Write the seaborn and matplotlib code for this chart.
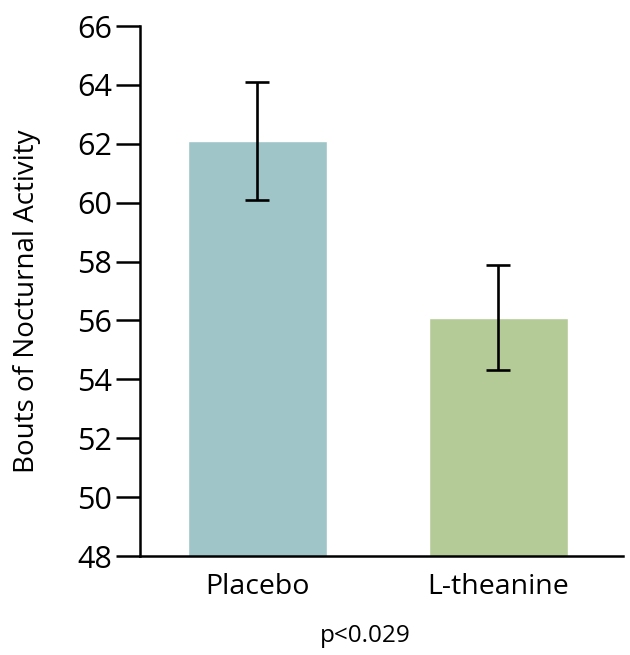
import matplotlib
matplotlib.use("Agg")
import matplotlib.pyplot as plt
import seaborn as sns
import pandas as pd

categories = ["Placebo", "L-theanine"]
means = [62.1, 56.1]
errors = [2.0, 1.78]
colors = ["#9fc5c9", "#b4cb97"]
yticks = [48, 50, 52, 54, 56, 58, 60, 62, 64, 66]

sns.set_theme(style="white")
plt.rcParams["font.family"] = ["Open Sans", "DejaVu Sans"]
plt.rcParams["text.color"] = "black"
plt.rcParams["axes.labelcolor"] = "black"

df = pd.DataFrame({"group": categories, "value": means})

fig = plt.figure(figsize=(6.30, 6.55), dpi=100)
ax = fig.add_axes([0.2222, 0.1511, 0.989 - 0.2222, 0.9603 - 0.1511])

sns.barplot(data=df, x="group", y="value", hue="group", palette=colors,
            width=0.577, errorbar=None, legend=False, ax=ax, saturation=1)
ax.errorbar(range(len(categories)), means, yerr=errors, fmt="none",
            ecolor="black", elinewidth=1.9, capsize=8.3, capthick=1.9)

ax.set_ylim(48, 66)
ax.set_yticks(yticks)
ax.set_xlim(-0.4876, 1.517)
ax.set_xlabel("")
ax.set_ylabel("Bouts of Nocturnal Activity", fontsize=20, labelpad=8)
ax.yaxis.set_label_coords(-0.205, 0.48)

for s in ["top", "right"]:
    ax.spines[s].set_visible(False)
for s in ["left", "bottom"]:
    ax.spines[s].set_color("black")
    ax.spines[s].set_linewidth(1.8)

ax.tick_params(axis="y", direction="out", length=17, width=1.8, colors="black",
               labelsize=22, pad=3, left=True)
ax.tick_params(axis="x", length=0, labelsize=20.5, pad=12, colors="black")

fig.text(365 / 630, 1 - 636 / 655, "p<0.029", ha="center", va="center", fontsize=17.5)

fig.savefig("out.png", dpi=100)
